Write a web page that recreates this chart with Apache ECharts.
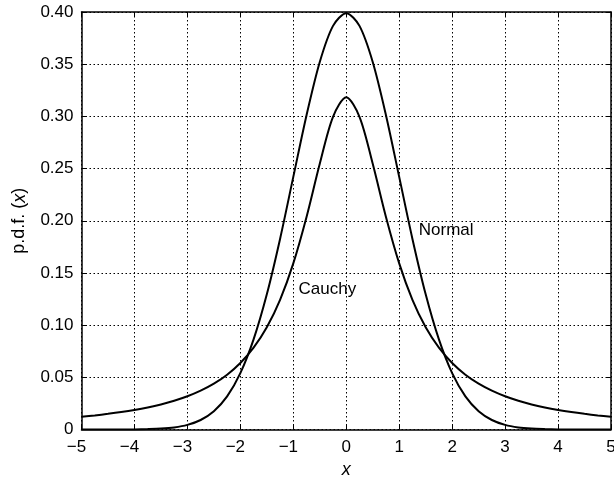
<!DOCTYPE html>
<html>
<head>
<meta charset="utf-8">
<script src="https://cdn.jsdelivr.net/npm/echarts@6/dist/echarts.min.js"></script>
<style>
  html, body { margin: 0; padding: 0; background: #fff; }
  #chart { width: 614px; height: 481px; }
</style>
</head>
<body>
<div id="chart"></div>
<script>
const xs = [
  -5, -4.75, -4.5, -4.25, -4, -3.75, -3.5, -3.25, -3, -2.75, -2.5, -2.25, -2, -1.75, -1.5, -1.25, -1, -0.75, -0.5, -0.25,
  0, 0.25, 0.5, 0.75, 1, 1.25, 1.5, 1.75, 2, 2.25, 2.5, 2.75, 3, 3.25, 3.5, 3.75, 4, 4.25, 4.5, 4.75, 5
]
const normalVals = [
  0.0000, 0.0000, 0.0000, 0.0000, 0.0001, 0.0004, 0.0009, 0.0020, 0.0044, 0.0091, 0.0175, 0.0317, 0.0540, 0.0863, 0.1295, 0.1826, 0.2420, 0.3011, 0.3521, 0.3867,
  0.3989, 0.3867, 0.3521, 0.3011, 0.2420, 0.1826, 0.1295, 0.0863, 0.0540, 0.0317, 0.0175, 0.0091, 0.0044, 0.0020, 0.0009, 0.0004, 0.0001, 0.0000, 0.0000, 0.0000, 0.0000
]
const cauchyVals = [
  0.0122, 0.0135, 0.0150, 0.0167, 0.0187, 0.0211, 0.0240, 0.0275, 0.0318, 0.0372, 0.0439, 0.0525, 0.0637, 0.0784, 0.0979, 0.1242, 0.1592, 0.2037, 0.2546, 0.2996,
  0.3183, 0.2996, 0.2546, 0.2037, 0.1592, 0.1242, 0.0979, 0.0784, 0.0637, 0.0525, 0.0439, 0.0372, 0.0318, 0.0275, 0.0240, 0.0211, 0.0187, 0.0167, 0.0150, 0.0135, 0.0122
]
const curveLabels = [
  { name: 'Normal', coord: [1.36, 0.191] },
  { name: 'Cauchy', coord: [-0.91, 0.134] }
]

const font = 'Liberation Sans, Arial, Helvetica, sans-serif'
const chart = echarts.init(document.getElementById('chart'))

function pairs(vals) {
  return xs.map((x, i) => [x, vals[i]])
}

const gridLine = { show: true, lineStyle: { color: '#000', type: [1.5, 2.5], width: 1 } }
const hidden = { show: false }
const frameLine = { show: true, onZero: false, lineStyle: { color: '#000', width: 1.5 } }
const innerTick = { show: true, inside: true, length: 5, lineStyle: { color: '#000' } }

function textMark(item) {
  return {
    symbol: 'circle', symbolSize: 1,
    itemStyle: { color: 'rgba(0,0,0,0)' },
    data: [{ coord: item.coord, value: item.name }],
    label: {
      show: true, position: 'right', distance: 0, color: '#000',
      fontSize: 17, fontFamily: font, formatter: p => p.value
    }
  }
}

// minus sign hangs left of the tick, digit stays centred (invisible twin on the right)
function xTickText(v) {
  if (v < 0) return '{t|\u2212' + Math.abs(v) + '}{g|\u2212}'
  return '{t|' + v + '}'
}

chart.setOption({
  animation: false,
  grid: { left: 81.5, right: 3, top: 12, bottom: 51.5, outerBoundsMode: 'none', containLabel: false },
  xAxis: [
    {
      type: 'value', min: -5, max: 5, interval: 1,
      axisLine: frameLine, axisTick: innerTick,
      axisLabel: {
        margin: 9, formatter: xTickText,
        rich: {
          t: { color: '#000', fontSize: 17, fontFamily: font },
          g: { color: 'rgba(0,0,0,0)', fontSize: 17, fontFamily: font }
        }
      },
      splitLine: gridLine,
      name: 'x', nameLocation: 'middle', nameGap: 31,
      nameTextStyle: { color: '#000', fontSize: 18, fontStyle: 'italic', fontFamily: font }
    },
    {
      type: 'value', min: -5, max: 5, interval: 1, position: 'top',
      axisLine: frameLine, axisTick: innerTick,
      axisLabel: hidden, splitLine: hidden
    }
  ],
  yAxis: [
    {
      type: 'value', min: 0, max: 0.4, interval: 0.05,
      axisLine: frameLine, axisTick: innerTick,
      axisLabel: {
        color: '#000', fontSize: 17, fontFamily: font, margin: 8,
        formatter: v => (v === 0 ? '0' : v.toFixed(2))
      },
      splitLine: gridLine,
      name: '{n|p.d.f. (}{i|x}{n|)}', nameLocation: 'middle', nameGap: 53, nameRotate: 90,
      nameTextStyle: {
        rich: {
          n: { color: '#000', fontSize: 18, fontFamily: font },
          i: { color: '#000', fontSize: 18, fontFamily: font, fontStyle: 'italic' }
        }
      }
    },
    {
      type: 'value', min: 0, max: 0.4, interval: 0.05, position: 'right',
      axisLine: frameLine, axisTick: innerTick,
      axisLabel: hidden, splitLine: hidden
    }
  ],
  series: [
    {
      name: 'Normal', type: 'line', smooth: 0.3, symbol: 'none',
      data: pairs(normalVals),
      lineStyle: { color: '#000', width: 2 },
      markPoint: textMark(curveLabels[0])
    },
    {
      name: 'Cauchy', type: 'line', smooth: 0.3, symbol: 'none',
      data: pairs(cauchyVals),
      lineStyle: { color: '#000', width: 2 },
      markPoint: textMark(curveLabels[1])
    }
  ]
})
</script>
</body>
</html>
